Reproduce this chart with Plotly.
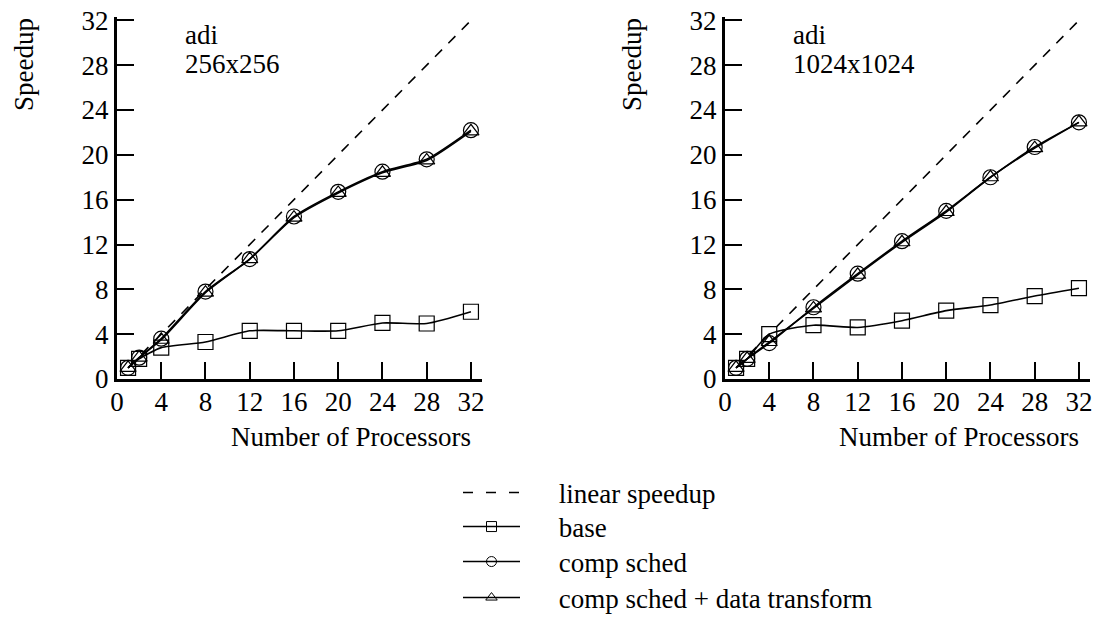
import plotly.graph_objects as go

procs = [1, 2, 4, 8, 12, 16, 20, 24, 28, 32]
linear = [1, 32]
linear_x = [1, 32]

# adi 256x256
base_256 = [1.0, 1.8, 2.8, 3.3, 4.3, 4.3, 4.3, 5.0, 4.95, 6.0]
comp_256 = [1.0, 1.9, 3.6, 7.8, 10.7, 14.5, 16.7, 18.5, 19.6, 22.2]
compdt_256 = [1.0, 1.9, 3.5, 7.7, 10.7, 14.4, 16.6, 18.4, 19.5, 22.1]

# adi 1024x1024
base_1024 = [1.0, 1.8, 4.0, 4.8, 4.6, 5.2, 6.1, 6.6, 7.4, 8.1]
comp_1024 = [1.0, 1.8, 3.2, 6.4, 9.4, 12.3, 15.0, 18.0, 20.7, 22.9]
compdt_1024 = [1.0, 1.8, 3.3, 6.3, 9.3, 12.2, 14.9, 18.0, 20.6, 22.9]

ticks = [0, 4, 8, 12, 16, 20, 24, 28, 32]
names = ["adi", "adi"]
sizes = ["256x256", "1024x1024"]
series_names = ["linear speedup", "base", "comp sched", "comp sched + data transform"]

FONT = "Liberation Serif"
FS = 27

W, H = 1097, 618


def px(X):
    return X / W


def py(Y):
    return 1 - Y / H


PAD = "\u00a0" * 5
legend_ids = ["legend", "legend2", "legend3", "legend4"]
symbols = [None, "square-open", "circle-open", "triangle-up-open"]

LINE = dict(color="black", width=1.6, shape="spline", smoothing=0.6)

fig = go.Figure()

panels = [
    ("x", "y", base_256, comp_256, compdt_256),
    ("x2", "y2", base_1024, comp_1024, compdt_1024),
]
for xa, ya, base, comp, compdt in panels:
    fig.add_trace(go.Scatter(x=linear_x, y=linear, mode="lines", xaxis=xa, yaxis=ya,
                             line=dict(color="black", width=1.6, dash="10px,9px"),
                             name=series_names[0], showlegend=False))
    for vals, sym, nm, sz in [(base, symbols[1], series_names[1], 15),
                              (comp, symbols[2], series_names[2], 15),
                              (compdt, symbols[3], series_names[3], 14)]:
        fig.add_trace(go.Scatter(x=procs, y=vals, mode="lines+markers", xaxis=xa, yaxis=ya,
                                 line=LINE,
                                 marker=dict(symbol=sym, size=sz, color="black", line=dict(width=1.2)),
                                 cliponaxis=False, name=nm, showlegend=False))

# legend entries (no data of their own)
for i, nm in enumerate(series_names):
    if symbols[i] is None:
        fig.add_trace(go.Scatter(x=[None], y=[None], mode="lines",
                                 line=dict(color="black", width=1.5, dash="10px,13px"),
                                 name=PAD + nm, legend=legend_ids[i], showlegend=True))
    else:
        fig.add_trace(go.Scatter(x=[None], y=[None], mode="lines+markers",
                                 line=dict(color="black", width=1.5),
                                 marker=dict(symbol=symbols[i], size=10, color="black", line=dict(width=1)),
                                 name=PAD + nm, legend=legend_ids[i], showlegend=True))

axis_common = dict(showgrid=False, zeroline=False, showline=True, linecolor="black", linewidth=3,
                   ticks="inside", ticklen=17, tickwidth=2, tickcolor="black",
                   tickfont=dict(family=FONT, size=FS, color="black"), tickvals=ticks,
                   ticktext=[str(t) for t in ticks], ticklabeloverflow="allow")

ydom = [py(379), py(17)]
XD1 = [px(117), px(482)]
XD2 = [px(725), px(1090)]

legend_rows = [493, 527, 562, 598]
legend_layout = {}
for lid, row in zip(legend_ids, legend_rows):
    legend_layout[lid] = dict(x=px(458), y=py(row), xanchor="left", yanchor="middle",
                              font=dict(family=FONT, size=FS, color="black"),
                              itemsizing="trace", itemwidth=57,
                              bgcolor="rgba(0,0,0,0)")

fig.update_layout(
    width=W, height=H,
    margin=dict(l=0, r=0, t=0, b=0, autoexpand=False),
    paper_bgcolor="white", plot_bgcolor="white",
    font=dict(family=FONT, size=FS, color="black"),
    xaxis=dict(domain=XD1, range=[0, 33], anchor="y", ticklabelstandoff=-3, **axis_common),
    yaxis=dict(domain=ydom, range=[0, 32.3], anchor="x", **axis_common),
    xaxis2=dict(domain=XD2, range=[0, 33], anchor="y2", ticklabelstandoff=-3, **axis_common),
    yaxis2=dict(domain=ydom, range=[0, 32.3], anchor="x2", **axis_common),
    showlegend=True,
    **legend_layout,
)

for i, xa in enumerate(["x", "x2"]):
    left = 117 if i == 0 else 725
    fig.add_annotation(xref="paper", yref="paper", x=px(left + 66), y=py(35),
                       text=names[i], showarrow=False, xanchor="left", yanchor="middle",
                       font=dict(family=FONT, size=FS, color="black"))
    fig.add_annotation(xref="paper", yref="paper", x=px(left + 66), y=py(64),
                       text=sizes[i], showarrow=False, xanchor="left", yanchor="middle",
                       font=dict(family=FONT, size=FS, color="black"))
    fig.add_annotation(xref="paper", yref="paper", x=px(left - 93), y=py(65),
                       text="Speedup", textangle=-90, showarrow=False,
                       xanchor="center", yanchor="middle",
                       font=dict(family=FONT, size=FS, color="black"))
    fig.add_annotation(xref="paper", yref="paper", x=px(left + 356), y=py(437),
                       text="Number of Processors", showarrow=False, xanchor="right", yanchor="middle",
                       font=dict(family=FONT, size=FS, color="black"))

fig.write_html("out.html", config={"displayModeBar": False},
               post_script="document.body.style.margin='0';")
